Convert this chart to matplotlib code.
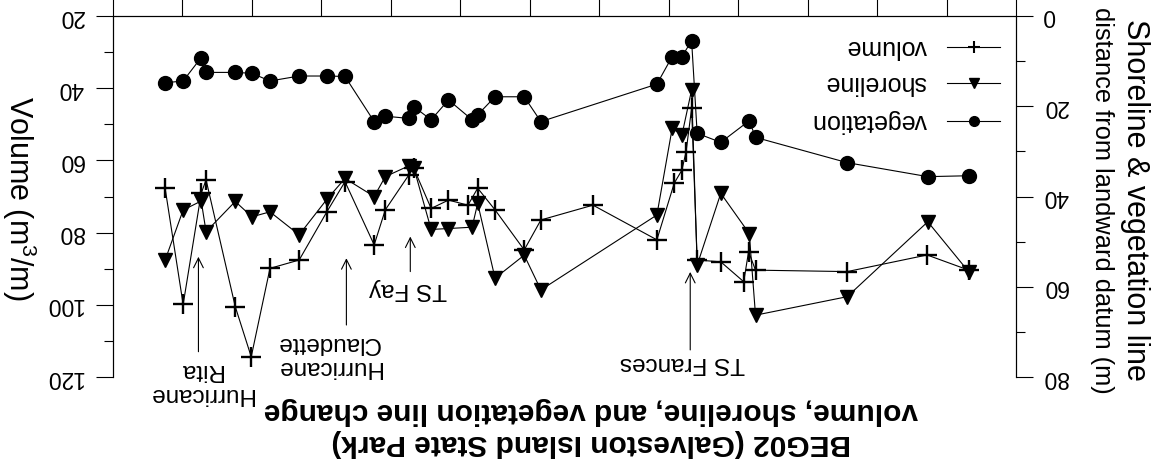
import matplotlib
matplotlib.use("Agg")
import matplotlib.pyplot as plt
from matplotlib.ticker import MultipleLocator

plt.rcParams['font.family'] = ['Liberation Sans', 'DejaVu Sans']
plt.rcParams['mathtext.fontset'] = 'custom'
plt.rcParams['mathtext.rm'] = 'Liberation Sans'
plt.rcParams['mathtext.it'] = 'Liberation Sans:italic'

# survey dates (decimal years) for shoreline / vegetation line positions
survey_dates = [2006.25, 2005.99, 2005.73, 2005.66, 2005.24, 2005.00, 2004.74, 2004.32,
                2003.92, 2003.66, 2003.24, 2003.08, 2002.74, 2002.67, 2002.42, 2002.17,
                2001.83, 2001.75, 2001.50, 2001.08, 2000.84, 1999.17, 1998.95, 1998.81,
                1998.67, 1998.59, 1998.25, 1997.84, 1997.75, 1996.43, 1995.27, 1994.68]
shoreline = [54.1, 43.0, 41.0, 47.8, 41.1, 44.5, 43.4, 48.5,
             40.6, 36.0, 40.0, 35.6, 33.2, 33.6, 47.3, 47.1,
             46.8, 41.5, 58.1, 53.0, 60.7, 44.1, 24.9, 26.4,
             16.4, 55.2, 39.3, 48.2, 66.3, 62.2, 45.6, 56.7]
vegetation = [14.8, 14.4, 9.2, 12.5, 12.5, 12.7, 14.4, 13.3,
              13.3, 13.4, 23.4, 22.2, 22.7, 20.1, 23.0, 18.6,
              23.0, 21.9, 17.9, 17.9, 23.4, 15.1, 9.0, 9.0,
              5.5, 26.0, 28.0, 23.2, 26.9, 32.5, 35.6, 35.4]

# profile volume surveys
volume_dates = [2006.25, 2005.99, 2005.73, 2005.66, 2005.24, 2005.01, 2004.74, 2004.32,
                2003.92, 2003.66, 2003.24, 2003.08, 2002.74, 2002.67, 2002.42, 2002.17,
                2001.89, 2001.75, 2001.50, 2001.08, 2000.84, 2000.09, 1999.17, 1998.92,
                1998.81, 1998.75, 1998.67, 1998.59, 1998.25, 1997.92, 1997.85, 1997.75,
                1996.43, 1995.28, 1994.68]
volume = [67.7, 99.9, 69.1, 65.4, 100.5, 114.4, 89.9, 87.6,
          74.2, 65.9, 83.4, 73.7, 64.0, 62.2, 73.3, 71.0,
          72.4, 67.7, 73.7, 84.8, 76.5, 72.4, 82.0, 66.3,
          62.7, 57.6, 45.6, 87.6, 88.1, 93.6, 85.3, 90.4,
          90.8, 86.2, 90.4]

# storm events: name, date, arrow tip / tail (volume units), label position
storms = [
    ("TS Frances", 1998.69, 90.9, 112.5, 1998.80, 116.1),
    ("TS Fay", 2002.72, 81.1, 90.8, 2002.75, 95.6),
    ("Hurricane\nClaudette", 2003.64, 87.1, 105.6, 2003.90, 114.0),
    ("Hurricane\nRita", 2005.77, 86.7, 113.0, 2005.74, 121.4),
]

W, H = 1162, 470
fig = plt.figure(figsize=(W / 100, H / 100), dpi=100)
left, right, top, bottom = 113, 1016, 16, 377
ax = fig.add_axes([left / W, 1 - bottom / H, (right - left) / W, (bottom - top) / H])
ax2 = ax.twinx()

ax.set_xlim(2007, 1994)
ax.set_ylim(120, 20)
ax2.set_ylim(80, 0)

lw = 0.8
ax.plot(volume_dates, volume, color='black', lw=lw, marker='+', ms=14, mew=1.7, zorder=3)
ax2.plot(survey_dates, shoreline, color='black', lw=lw, marker='v', ms=10.5, zorder=3)
ax2.plot(survey_dates, vegetation, color='black', lw=lw, marker='o', ms=10, zorder=3)

for a in (ax, ax2):
    a.spines['bottom'].set_visible(False)
    for s in ('top', 'left', 'right'):
        a.spines[s].set_linewidth(lw)

ax.xaxis.tick_top()
ax.set_xticks(range(1994, 2008))
ax.tick_params(axis='x', which='major', direction='out', length=12.2, width=lw,
               labeltop=False, labelbottom=False, top=True, bottom=False)

ax.yaxis.set_major_locator(MultipleLocator(20))
ax.yaxis.set_minor_locator(MultipleLocator(10))
ax.tick_params(axis='y', which='major', length=12.2, width=lw, labelsize=16.5, pad=9)
ax.tick_params(axis='y', which='minor', length=6.5, width=lw)
ax2.yaxis.set_major_locator(MultipleLocator(20))
ax2.yaxis.set_minor_locator(MultipleLocator(10))
ax2.tick_params(axis='y', which='major', length=12.2, width=lw, labelsize=16.5, pad=7)
ax2.tick_params(axis='y', which='minor', length=6.5, width=lw)
for lab in ax.get_yticklabels() + ax2.get_yticklabels():
    lab.set_rotation(180)
    lab.set_va('center')

# axis titles
fig.text(19 / W, 1 - 198 / H, r'Volume (m$^3$/m)', rotation=270, fontsize=22,
         ha='center', va='center')
fig.text(1135 / W, 1 - 200 / H, 'Shoreline & vegetation line', rotation=270, fontsize=22,
         ha='center', va='center')
fig.text(1102 / W, 1 - 200 / H, 'distance from landward datum (m)', rotation=270,
         fontsize=18.3, ha='center', va='center')

# chart title
fig.text(591 / W, 1 - 411 / H, 'volume, shoreline, and vegetation line change',
         rotation=180, fontsize=21.5, fontweight='bold', ha='center', va='center')
fig.text(591 / W, 1 - 443 / H, 'BEG02 (Galveston Island State Park)',
         rotation=180, fontsize=21.5, fontweight='bold', ha='center', va='center')

# storm markers
for name, x, tip, tail, tx, ty in storms:
    ax.annotate('', xy=(x, tip), xytext=(x, tail),
                arrowprops=dict(arrowstyle='->,head_length=0.5,head_width=0.25',
                                lw=lw, color='black', shrinkA=0, shrinkB=0,
                                mutation_scale=14),
                annotation_clip=False)
    ax.text(tx, ty, name, rotation=180, fontsize=17.5, ha='center', va='center',
            linespacing=1.1, clip_on=False)

# legend drawn by hand so it reads the same way as the rest of the labels
legend_rows = [("volume", '+', 8, 1.5, 0.914),
               ("shoreline", 'v', 7.5, 1.0, 0.814),
               ("vegetation", 'o', 7, 1.0, 0.709)]
for label, mk, size, mew, yy in legend_rows:
    ax2.plot([0.9236, 0.9823], [yy, yy], color='black', lw=lw, transform=ax2.transAxes,
             clip_on=False)
    ax2.plot([0.953], [yy], color='black', marker=mk, ms=size, mew=mew,
             transform=ax2.transAxes, clip_on=False)
    ax2.text(0.901, yy, label, rotation=180, fontsize=18, ha='right', va='center',
             transform=ax2.transAxes)

fig.savefig('out.png', dpi=100)
